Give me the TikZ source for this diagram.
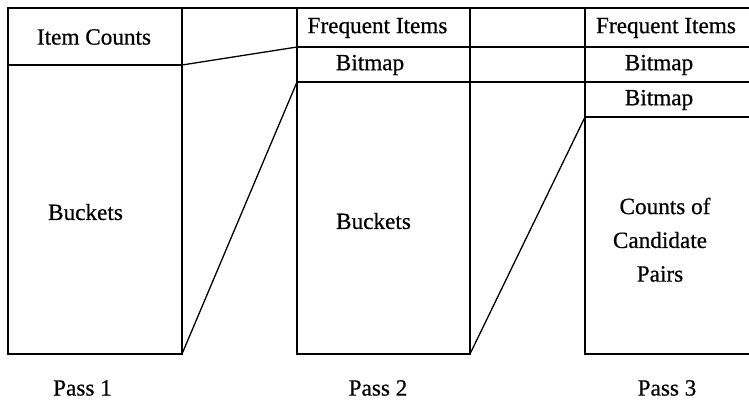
\documentclass[tikz,border=0pt]{standalone}
\usepackage{fontspec}
\setmainfont{Liberation Serif}
\newfontfamily\reffont{Liberation Serif}[FakeBold=0.6]
\begin{document}
\begin{tikzpicture}[x=1pt,y=-1pt,
  ln/.style={line width=1.3pt, line cap=rect},
  lbl/.style={font=\reffont\fontsize{23.2}{26}\selectfont, inner sep=0pt, align=center}]
\useasboundingbox (0,0) rectangle (749,400);
% key points
\coordinate (a1) at (8,8);    \coordinate (a2) at (182,8);
\coordinate (b1) at (297,8);  \coordinate (b2) at (470,8);
\coordinate (c1) at (585,8);  \coordinate (c2) at (749,8);
\coordinate (a1d) at (8,354); \coordinate (a2d) at (182,354);
\coordinate (b1d) at (297,354); \coordinate (b2d) at (470,354);
\coordinate (c1d) at (585,354); \coordinate (c2d) at (749,354);
\coordinate (aL) at (8,65);   \coordinate (aR) at (182,65);
\coordinate (f1) at (297,47); \coordinate (f2) at (749,47);
\coordinate (g1) at (297,82); \coordinate (g2) at (749,82);
\coordinate (h1) at (585,117); \coordinate (h2) at (749,117);
% frame lines
\draw[ln] (a1) -- (c2);
\draw[ln] (a1) -- (a1d) -- (a2d) -- (a2);
\draw[ln] (aL) -- (aR);
\draw[ln] (b1) -- (b1d) -- (b2d) -- (b2);
\draw[ln] (c1) -- (c1d) -- (c2d);
\draw[ln] (f1) -- (f2);
\draw[ln] (g1) -- (g2);
\draw[ln] (h1) -- (h2);
% connectors
\draw[ln] (aR) -- (f1);
\draw[ln] (a2d) -- (g1);
\draw[ln] (b2d) -- (h1);
% labels
\node[lbl] (ic) at (94,37) {Item Counts};
\node[lbl] (bk1) at (85.5,212) {Buckets};
\node[lbl] (fi2) at (377.5,28) {Frequent Items};
\node[lbl] (bm2) at (370,65) {Bitmap};
\node[lbl] (bk2) at (373.5,221) {Buckets};
\node[lbl] (fi3) at (666,28) {Frequent Items};
\node[lbl] (bm3a) at (659,65) {Bitmap};
\node[lbl] (bm3b) at (659,100) {Bitmap};
\node[lbl] (cp1) at (665,206) {Counts of};
\node[lbl] (cp2) at (660,240) {Candidate};
\node[lbl] (cp3) at (660,274) {Pairs};
\node[lbl] (p1) at (82.5,388) {Pass 1};
\node[lbl] (p2) at (378,388) {Pass 2};
\node[lbl] (p3) at (667,388) {Pass 3};
\end{tikzpicture}
\end{document}
